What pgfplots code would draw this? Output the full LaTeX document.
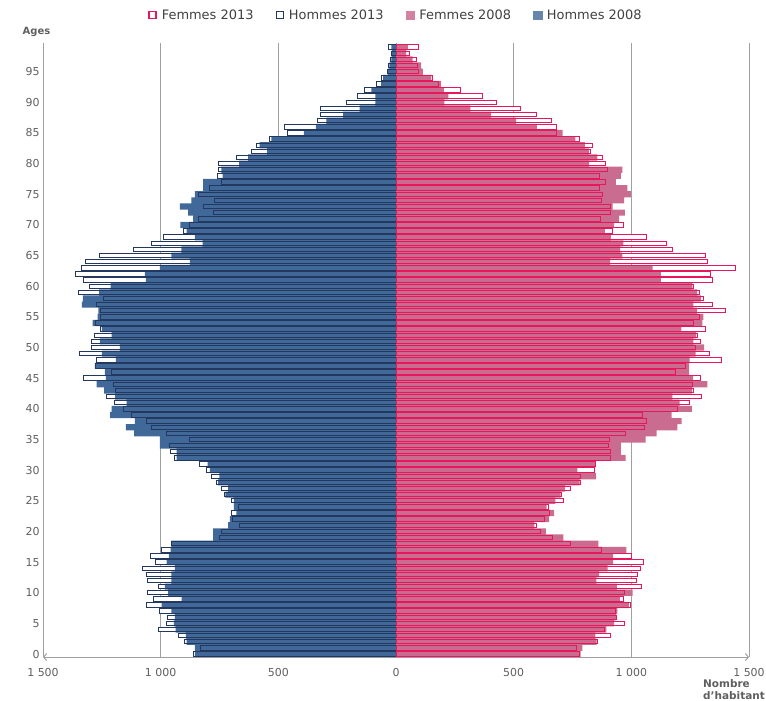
\documentclass[border=0pt]{standalone}
\usepackage{pgfplots}
\pgfplotsset{compat=1.18}
\usepackage{pgfplotstable}
\usetikzlibrary{arrows.meta}
\usepackage{fontspec}
\setmainfont{DejaVu Sans}
\definecolor{f13}{RGB}{232,22,90}
\definecolor{h13}{RGB}{35,55,95}
\definecolor{f08}{RGB}{202,108,143}
\definecolor{h08}{RGB}{64,104,152}
\definecolor{txt}{RGB}{95,95,95}
\definecolor{gridc}{RGB}{160,160,160}
\pgfplotstableread{
age h13 h08 f13 f08
0 862 855 781 785
1 831 855 767 792
2 897 890 856 852
3 925 893 913 847
4 1008 936 884 894
5 975 944 969 927
6 973 940 938 935
7 1004 954 931 941
8 1060 996 995 990
9 1029 911 965 951
10 1057 968 973 1005
11 1010 982 1044 938
12 1057 954 1022 851
13 1060 954 1026 863
14 1077 940 1037 899
15 1024 975 1050 923
16 1043 965 1002 923
17 996 958 874 979
18 954 954 743 860
19 749 777 665 711
20 741 777 616 637
21 664 713 599 588
22 695 706 630 651
23 699 678 651 672
24 671 689 648 640
25 699 689 711 677
26 728 725 705 700
27 741 713 743 719
28 763 756 786 780
29 784 751 786 850
30 805 791 842 771
31 834 801 846 845
32 940 932 913 976
33 957 932 913 955
34 961 1003 905 955
35 876 1003 908 1061
36 975 1113 976 1107
37 1039 1148 1058 1196
38 1060 1110 1064 1214
39 1123 1215 1047 1171
40 1159 1208 1196 1257
41 1198 1145 1249 1205
42 1232 1194 1299 1174
43 1190 1240 1262 1258
44 1201 1272 1259 1323
45 1329 1233 1295 1262
46 1208 1237 1186 1245
47 1279 1280 1231 1245
48 1272 1190 1382 1248
49 1345 1250 1330 1273
50 1293 1173 1273 1309
51 1296 1258 1292 1264
52 1283 1208 1283 1275
53 1257 1250 1316 1213
54 1275 1289 1264 1302
55 1257 1268 1288 1306
56 1257 1265 1401 1280
57 1272 1335 1344 1264
58 1244 1331 1306 1295
59 1350 1261 1288 1280
60 1303 1213 1266 1259
61 1329 1063 1344 1125
62 1360 1067 1337 1125
63 1336 1003 1443 1090
64 1321 876 1323 910
65 1261 954 1316 962
66 1116 912 1174 952
67 1039 822 1150 966
68 986 855 1066 913
69 901 890 920 887
70 876 916 967 927
71 841 862 870 948
72 777 883 913 972
73 820 918 910 920
74 770 869 873 969
75 841 855 877 998
76 791 820 863 983
77 742 820 891 934
78 760 737 863 955
79 753 742 899 962
80 753 667 889 821
81 678 628 877 856
82 614 548 825 820
83 593 580 834 803
84 537 530 780 762
85 462 391 684 708
86 473 341 684 599
87 335 296 662 510
88 320 225 599 404
89 320 155 528 316
90 211 88 429 206
91 162 88 368 223
92 134 105 276 203
93 84 63 182 192
94 60 55 156 150
95 37 35 95 114
96 30 28 93 107
97 23 20 86 71
98 20 18 57 43
99 32 20 97 50
}\pyr
\begin{document}
\begin{tikzpicture}[x=1bp,y=1bp]
\useasboundingbox (0,0) rectangle (766,701);
\begin{axis}[
  at={(43bp,43.9bp)}, anchor=south west,
  scale only axis, width=706bp, height=613.6bp,
  xmin=-1500, xmax=1500, ymin=-0.5, ymax=99.6,
  axis x line=bottom, axis y line=left,
  x axis line style={{Straight Barb[length=3bp,width=7bp]}-{Straight Barb[length=3bp,width=7bp]}, gridc, line width=1bp},
  y axis line style={-, gridc, line width=1bp},
  xtick={-1500,-1000,-500,0,500,1000,1500},
  xticklabels={1 500,1 000,500,0,500,1 000,1 500},
  ytick={0,5,...,95},
  major tick length=0pt,
  xmajorgrids, grid style={gridc, line width=1bp},
  ticklabel style={font=\fontsize{11}{13}\selectfont, text=txt},
  xticklabel style={yshift=-8bp},
  /pgf/number format/assume math mode=true,
  legend style={at={(0.5,1.0464)}, anchor=center, draw=none, fill=none,
    font=\fontsize{13}{15}\selectfont, text=black!75,
    /tikz/every even column/.append style={column sep=20bp}},
  legend columns=4, legend cell align=left,
]
% white interiors of the 2013 boxes
\addplot[xbar, bar shift=0pt, bar width=0.72, fill=white, draw=none, forget plot] table[y=age, x expr=-\thisrow{h13}] {\pyr};
\addplot[xbar, bar shift=0pt, bar width=0.72, fill=white, draw=none, forget plot] table[y=age, x=f13] {\pyr};
% 2008 filled bars
\addplot[xbar, bar shift=0pt, bar width=1, fill=h08, draw=none, forget plot] table[y=age, x expr=-\thisrow{h08}] {\pyr};
\addplot[xbar, bar shift=0pt, bar width=1, fill=f08, draw=none, forget plot] table[y=age, x=f08] {\pyr};
% 2013 outlines
\addplot[xbar, bar shift=0pt, bar width=0.72, fill=none, draw=h13, line width=1bp, forget plot] table[y=age, x expr=-\thisrow{h13}] {\pyr};
\addplot[xbar, bar shift=0pt, bar width=0.72, fill=none, draw=f13, line width=1bp, forget plot] table[y=age, x=f13] {\pyr};
\addlegendimage{legend image code/.code={\draw[draw=f13,fill=white,line width=1.4bp] (0bp,-3.5bp) rectangle (7bp,3.5bp);}}
\addlegendentry{\hspace{3bp}Femmes 2013}
\addlegendimage{legend image code/.code={\draw[draw=h13,fill=white,line width=1.4bp] (0bp,-3.5bp) rectangle (7bp,3.5bp);}}
\addlegendentry{\hspace{3bp}Hommes 2013}
\addlegendimage{legend image code/.code={\fill[f08!85!white] (-0.7bp,-4.2bp) rectangle (7.7bp,4.2bp);}}
\addlegendentry{\hspace{3bp}Femmes 2008}
\addlegendimage{legend image code/.code={\fill[h08!80!white] (-0.7bp,-4.2bp) rectangle (7.7bp,4.2bp);}}
\addlegendentry{\hspace{3bp}Hommes 2008}
\end{axis}
\node[font=\bfseries\fontsize{10}{12}\selectfont, text=txt] at (36.5,669) {Ages};
\node[anchor=north west, align=left, inner sep=0pt, font=\bfseries\fontsize{10.5}{12}\selectfont, text=txt] at (703,22) {Nombre\\d’habitant};
\end{tikzpicture}
\end{document}
